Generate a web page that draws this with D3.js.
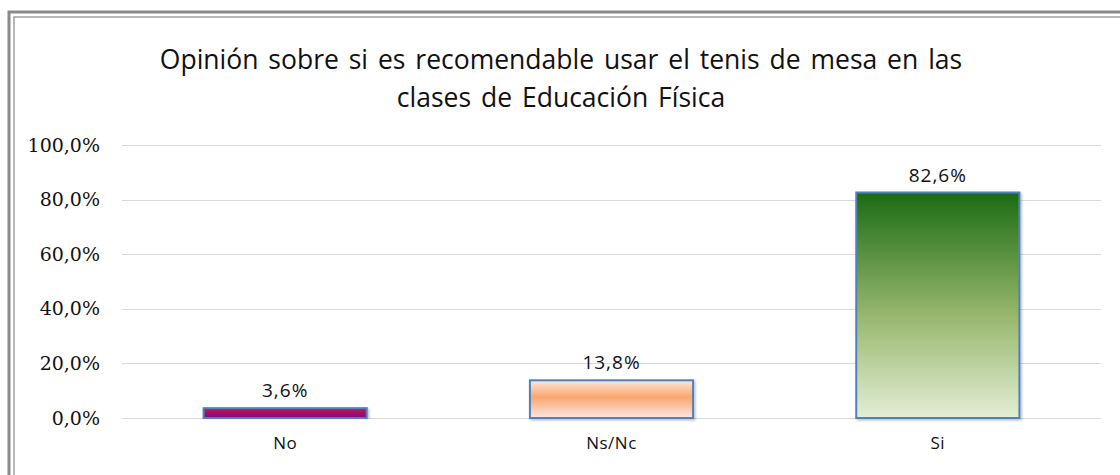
<!DOCTYPE html>
<html>
<head>
<meta charset="utf-8">
<script src="https://cdn.jsdelivr.net/npm/d3@7"></script>
<style>
  body { margin: 0; background: #fff; }
  svg { display: block; }
</style>
</head>
<body>
<svg id="chart" width="1120" height="475"></svg>
<script>
const categories = ['No', 'Ns/Nc', 'Si']
const values = [0.036, 0.138, 0.826]
const tickValues = [0, 0.2, 0.4, 0.6, 0.8, 1.0]
const titleLines = [
  'Opinión sobre si es recomendable usar el tenis de mesa en las',
  'clases de Educación Física',
]
// gradient stops per bar (top -> bottom)
const barStops = [
  [['0%', '#d0144a'], ['100%', '#76098c']],
  [['0%', '#fde6da'], ['45%', '#f9a66c'], ['100%', '#fde6e6']],
  [['0%', '#1b6b14'], ['55%', '#98b86c'], ['100%', '#e2eed6']],
]

const svg = d3.select('#chart')
const margins = {top: 145, right: 19, bottom: 57, left: 122}
const width = 1120 - margins.left - margins.right
const height = 475 - margins.top - margins.bottom

// frame (double line on left and top, cut off at the right and bottom)
const frame = svg.append('g').attr('fill', 'none')
frame.append('path').attr('d', 'M9,475V12H1120').attr('stroke', '#8a8a8a').attr('stroke-width', 3)
frame.append('path').attr('d', 'M14,475V17H1120').attr('stroke', '#a0a0a0').attr('stroke-width', 1.5)

const fmt = (v) => d3.format('.1f')(v * 100).replace('.', ',') + '%'

const defs = svg.append('defs')
barStops.forEach((stops, i) => {
  const grad = defs.append('linearGradient')
    .attr('id', `grad${i}`)
    .attr('x1', 0).attr('y1', 0).attr('x2', 0).attr('y2', 1)
  stops.forEach(([off, col]) => grad.append('stop').attr('offset', off).attr('stop-color', col))
})
const shadow = defs.append('filter').attr('id', 'shadow')
  .attr('x', '-5%').attr('y', '-5%').attr('width', '115%').attr('height', '115%')
shadow.append('feDropShadow').attr('dx', 1.5).attr('dy', 1.5).attr('stdDeviation', 1)
  .attr('flood-color', '#000').attr('flood-opacity', 0.25)

const g = svg.append('g').attr('transform', `translate(${margins.left}, ${margins.top})`)

const x = d3.scaleBand().domain(categories).range([0, width]).paddingInner(0.5).paddingOuter(0.25)
const y = d3.scaleLinear().domain([0, 1]).range([height, 0])

// title
svg.append('g')
  .selectAll('text')
  .data(titleLines)
  .join('text')
  .attr('x', 561)
  .attr('y', (d, i) => 69 + i * 38)
  .attr('text-anchor', 'middle')
  .attr('font-family', 'Open Sans, sans-serif')
  .attr('font-size', 26.5)
  .attr('word-spacing', 3)
  .attr('fill', '#111')
  .text((d) => d)

// gridlines
g.append('g')
  .selectAll('line')
  .data(tickValues)
  .join('line')
  .attr('x1', 0).attr('x2', width)
  .attr('y1', (d) => Math.round(y(d)) + 0.5).attr('y2', (d) => Math.round(y(d)) + 0.5)
  .attr('stroke', '#d9d9d9')

// y axis labels
const yAxis = g.append('g')
  .call(d3.axisLeft(y).tickValues(tickValues).tickFormat(fmt).tickSize(0).tickPadding(22))
yAxis.select('.domain').remove()
yAxis.selectAll('text')
  .attr('font-family', 'DejaVu Serif, serif')
  .attr('font-size', 19)
  .attr('fill', '#111')

// x axis labels
const xAxis = g.append('g')
  .attr('transform', `translate(0, ${height})`)
  .call(d3.axisBottom(x).tickSize(0).tickPadding(19))
xAxis.select('.domain').remove()
xAxis.selectAll('text')
  .attr('font-family', 'Open Sans, sans-serif')
  .attr('font-size', 17)
  .attr('letter-spacing', 0.5)
  .attr('fill', '#111')

// bars
const data = categories.map((c, i) => ({cat: c, value: values[i], i}))
g.append('g')
  .selectAll('rect')
  .data(data)
  .join('rect')
  .attr('x', (d) => x(d.cat))
  .attr('y', (d) => y(d.value))
  .attr('width', x.bandwidth())
  .attr('height', (d) => height - y(d.value))
  .attr('fill', (d) => `url(#grad${d.i})`)
  .attr('stroke', '#4f81bd')
  .attr('stroke-width', 2)
  .attr('filter', 'url(#shadow)')

// value labels
g.append('g')
  .selectAll('text')
  .data(data)
  .join('text')
  .attr('x', (d) => x(d.cat) + x.bandwidth() / 2)
  .attr('y', (d) => y(d.value) - 11)
  .attr('text-anchor', 'middle')
  .attr('font-family', 'Open Sans, sans-serif')
  .attr('font-size', 19)
  .attr('letter-spacing', 1)
  .attr('fill', '#111')
  .text((d) => fmt(d.value))
</script>
</body>
</html>
